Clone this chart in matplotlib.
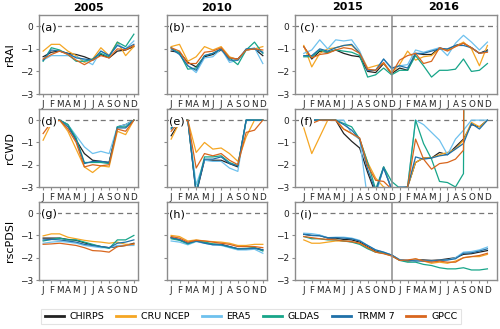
import numpy as np
import matplotlib
matplotlib.use('Agg')
import matplotlib.pyplot as plt
from matplotlib.lines import Line2D

months = ['J', 'F', 'M', 'A', 'M', 'J', 'J', 'A', 'S', 'O', 'N', 'D']
datasets = ['CHIRPS', 'CRU NCEP', 'ERA5', 'GLDAS', 'TRMM 7', 'GPCC']
colors = ['#222222', '#F5A623', '#6EC1EE', '#17A589', '#1F70A8', '#D8661E']
rows = ['rRAI', 'rCWD', 'rscPDSI']
years = ['2005', '2010', '2015', '2016']
nan = np.nan

# rRAI
rai_2005 = {
    'CHIRPS':   [-1.35, -1.15, -1.1, -1.2, -1.25, -1.35, -1.5, -1.25, -1.4, -1.1, -1.05, -0.9],
    'CRU NCEP': [-1.1, -0.8, -0.8, -1.1, -1.3, -1.6, -1.45, -0.95, -1.3, -0.7, -1.3, -0.9],
    'ERA5':     [-1.5, -1.3, -1.3, -1.3, -1.35, -1.5, -1.7, -1.1, -1.3, -0.8, -1.0, -0.65],
    'GLDAS':    [-1.55, -0.95, -1.05, -1.25, -1.55, -1.55, -1.45, -1.2, -1.35, -0.7, -0.9, -0.35],
    'TRMM 7':   [-1.5, -1.05, -1.1, -1.2, -1.4, -1.45, -1.5, -1.1, -1.3, -0.85, -1.0, -0.8],
    'GPCC':     [-1.45, -1.25, -1.1, -1.25, -1.5, -1.7, -1.5, -1.3, -1.4, -1.0, -1.05, -0.85],
}
rai_2010 = {
    'CHIRPS':   [-1.1, -1.15, -1.6, -1.8, -1.35, -1.25, -1.05, -1.4, -1.45, -1.05, -1.0, -1.3],
    'CRU NCEP': [-0.9, -0.8, -1.55, -1.35, -0.9, -1.05, -0.9, -1.35, -1.5, -1.05, -1.0, -0.9],
    'ERA5':     [-0.95, -1.2, -1.75, -2.05, -1.4, -1.35, -1.0, -1.6, -1.5, -1.05, -0.95, -1.65],
    'GLDAS':    [-0.95, -1.2, -1.9, -1.85, -1.3, -1.2, -1.0, -1.4, -1.7, -1.05, -0.7, -1.2],
    'TRMM 7':   [-1.0, -1.25, -1.75, -1.95, -1.3, -1.2, -1.0, -1.5, -1.5, -1.0, -1.0, -1.15],
    'GPCC':     [-0.95, -1.1, -1.65, -1.65, -1.15, -1.1, -0.95, -1.4, -1.45, -1.05, -1.0, -1.05],
}
rai_2015_16 = {
    'CHIRPS':   [-0.9, -1.45, -1.1, -1.15, -1.05, -1.2, -1.3, -1.35, -2.0, -2.05, -1.65, -2.1,
                 -1.85, -1.95, -1.2, -1.25, -1.25, -0.95, -1.05, -0.85, -0.75, -0.95, -1.2, -1.05],
    'CRU NCEP': [-0.85, -1.8, -1.2, -1.0, -0.95, -0.85, -0.85, -1.15, -1.85, -1.75, -1.65, -2.05,
                 -1.7, -1.1, -1.5, -1.35, -1.3, -1.0, -1.05, -0.9, -0.7, -1.0, -1.75, -0.85],
    'ERA5':     [-1.2, -1.05, -0.6, -1.0, -0.6, -0.65, -0.6, -1.1, -1.95, -1.95, -1.45, -1.9,
                 -1.75, -1.7, -1.05, -1.15, -1.05, -0.95, -1.3, -0.75, -0.4, -0.7, -1.05, -0.7],
    'GLDAS':    [-1.35, -1.35, -1.05, -1.15, -1.05, -1.1, -1.15, -1.3, -2.25, -2.15, -1.85, -2.15,
                 -1.95, -1.95, -1.3, -1.75, -2.25, -1.95, -1.95, -1.9, -1.45, -2.0, -1.95, -1.65],
    'TRMM 7':   [-1.3, -1.3, -1.0, -1.1, -0.95, -0.85, -0.8, -1.2, -1.95, -1.95, -1.45, -1.85,
                 -1.75, -1.85, -1.2, -1.2, -1.1, -1.0, -1.0, -0.85, -0.85, -0.95, -1.2, -1.1],
    'GPCC':     [-0.9, -1.4, -1.25, -1.2, -1.05, -0.95, -1.0, -1.2, -1.9, -1.95, -1.6, -2.1,
                 -1.5, -1.3, -1.2, -1.65, -1.55, -0.95, -1.1, -0.9, -0.75, -0.95, -1.2, -1.15],
}

# rCWD
cwd_2005 = {
    'CHIRPS':   [0, 0, 0, -0.2, -0.9, -1.5, -1.8, -1.85, -1.9, -0.3, -0.2, 0],
    'CRU NCEP': [-0.9, -0.15, 0, -0.5, -1.3, -2.1, -2.35, -2.05, -2.1, -0.5, -0.65, 0],
    'ERA5':     [0, 0, 0, -0.2, -0.7, -1.2, -1.5, -1.4, -1.5, -0.3, -0.2, 0],
    'GLDAS':    [0, 0, 0, -0.2, -0.8, -1.9, -1.9, -1.9, -1.95, -0.3, -0.3, 0],
    'TRMM 7':   [0, 0, 0, -0.3, -0.9, -1.95, -1.85, -1.85, -1.9, -0.35, -0.35, 0],
    'GPCC':     [-0.6, -0.1, 0, -0.4, -1.0, -2.1, -2.0, -2.05, -2.0, -0.4, -0.5, 0],
}
cwd_2010 = {
    'CHIRPS':   [-0.7, -0.1, 0, -3.3, -1.8, -1.8, -1.8, -1.95, -2.1, 0, 0, 0],
    'CRU NCEP': [-0.85, -0.1, 0, -1.45, -1.0, -1.3, -1.25, -1.5, -1.85, -0.75, 0, 0],
    'ERA5':     [-0.3, 0, 0, -2.9, -1.8, -1.85, -1.85, -2.15, -2.3, 0, 0, 0],
    'GLDAS':    [-0.35, 0, 0, -3.2, -1.65, -1.65, -1.6, -1.9, -2.05, 0, 0, 0],
    'TRMM 7':   [-0.4, 0, 0, -3.3, -1.75, -1.75, -1.65, -1.95, -2.05, 0, 0, 0],
    'GPCC':     [-0.5, -0.05, 0, -2.15, -1.5, -1.6, -1.5, -1.8, -2.0, -0.55, -0.45, 0],
}
cwd_2015_16 = {
    'CHIRPS':   [0, 0, 0, 0, 0, -0.6, -0.95, -1.25, -2.35, -3.3, -2.1, -3.1,
                 -3.1, -3.0, -1.9, -1.7, -1.7, -1.45, -1.55, -1.2, -0.85, -0.2, -0.3, 0],
    'CRU NCEP': [-0.35, -1.5, -0.75, 0, 0, -0.4, -0.6, -0.85, -1.9, -2.6, -3.0, -3.1,
                 -3.2, -3.0, -1.9, -1.7, -1.7, -1.55, -1.45, -1.3, -0.9, -0.1, -0.3, 0],
    'ERA5':     [0, 0, 0, 0, 0, 0, -0.6, -0.85, -3.6, -3.4, -2.1, -3.1,
                 -3.2, -3.0, 0, -0.2, -0.55, -0.9, -1.55, -0.85, -0.45, 0, 0, 0],
    'GLDAS':    [0, 0, 0, 0, 0, -0.15, -0.3, -0.85, -1.9, -3.1, -2.1, -2.75,
                 -3.05, -3.0, 0, -1.05, -1.75, -2.75, -2.8, -3.0, -2.4, 60, nan, nan],
    'TRMM 7':   [0, 0, 0, 0, 0, -0.2, -0.45, -0.85, -2.2, -3.2, -2.15, -3.1,
                 -3.0, -3.0, -1.65, -1.75, -1.7, -1.6, -1.55, -1.3, -1.05, -0.15, -0.4, 0],
    'GPCC':     [-0.1, -0.15, 0, 0, 0, -0.4, -0.6, -0.8, -2.05, -2.7, -2.75, -3.1,
                 -3.1, -3.0, -0.85, -1.75, -2.2, -1.95, -1.9, -1.75, -1.35, 60, nan, nan],
}

# rscPDSI
pdsi_2005 = {
    'CHIRPS':   [-1.12, -1.12, -1.12, -1.18, -1.22, -1.33, -1.43, -1.5, -1.55, -1.5, -1.45, -1.35],
    'CRU NCEP': [-1.02, -0.93, -0.93, -1.08, -1.15, -1.22, -1.27, -1.3, -1.35, -1.3, -1.4, -1.4],
    'ERA5':     [-1.35, -1.3, -1.27, -1.3, -1.35, -1.45, -1.5, -1.55, -1.55, -1.45, -1.45, -1.45],
    'GLDAS':    [-1.25, -1.18, -1.12, -1.2, -1.2, -1.3, -1.4, -1.5, -1.58, -1.2, -1.2, -1.0],
    'TRMM 7':   [-1.2, -1.18, -1.2, -1.25, -1.3, -1.4, -1.45, -1.5, -1.55, -1.35, -1.3, -1.2],
    'GPCC':     [-1.4, -1.38, -1.35, -1.4, -1.45, -1.55, -1.68, -1.7, -1.75, -1.5, -1.45, -1.38],
}
pdsi_2010 = {
    'CHIRPS':   [-1.1, -1.2, -1.35, -1.25, -1.32, -1.4, -1.4, -1.5, -1.6, -1.6, -1.55, -1.65],
    'CRU NCEP': [-1.0, -1.05, -1.25, -1.2, -1.25, -1.28, -1.3, -1.35, -1.45, -1.45, -1.4, -1.4],
    'ERA5':     [-1.25, -1.3, -1.42, -1.28, -1.35, -1.42, -1.45, -1.55, -1.65, -1.65, -1.62, -1.8],
    'GLDAS':    [-1.15, -1.22, -1.38, -1.25, -1.3, -1.38, -1.42, -1.52, -1.6, -1.58, -1.55, -1.7],
    'TRMM 7':   [-1.1, -1.18, -1.35, -1.25, -1.35, -1.42, -1.42, -1.5, -1.6, -1.6, -1.58, -1.65],
    'GPCC':     [-1.05, -1.12, -1.3, -1.22, -1.25, -1.3, -1.35, -1.4, -1.5, -1.5, -1.5, -1.55],
}
pdsi_2015_16 = {
    'CHIRPS':   [-0.95, -1.0, -1.0, -1.12, -1.12, -1.18, -1.2, -1.3, -1.5, -1.7, -1.78, -1.88,
                 -2.1, -2.15, -2.1, -2.1, -2.12, -2.1, -2.05, -2.0, -1.85, -1.82, -1.75, -1.68],
    'CRU NCEP': [-1.2, -1.35, -1.35, -1.3, -1.25, -1.25, -1.28, -1.35, -1.55, -1.75, -1.8, -1.92,
                 -2.1, -2.15, -2.05, -2.15, -2.25, -2.2, -2.25, -2.15, -2.0, -1.95, -1.95, -1.85],
    'ERA5':     [-0.9, -0.92, -0.98, -1.1, -1.08, -1.08, -1.12, -1.22, -1.45, -1.65, -1.75, -1.88,
                 -2.08, -2.12, -2.1, -2.15, -2.15, -2.12, -2.1, -2.0, -1.75, -1.72, -1.65, -1.52],
    'GLDAS':    [-1.05, -1.15, -1.15, -1.2, -1.2, -1.25, -1.3, -1.4, -1.6, -1.75, -1.8, -1.9,
                 -2.12, -2.2, -2.2, -2.3, -2.35, -2.45, -2.5, -2.5, -2.45, -2.55, -2.55, -2.5],
    'TRMM 7':   [-0.95, -1.0, -1.02, -1.1, -1.1, -1.12, -1.15, -1.25, -1.45, -1.65, -1.75, -1.88,
                 -2.1, -2.12, -2.15, -2.15, -2.15, -2.12, -2.1, -2.05, -1.8, -1.78, -1.7, -1.6],
    'GPCC':     [-1.05, -1.1, -1.15, -1.18, -1.2, -1.25, -1.28, -1.35, -1.55, -1.75, -1.82, -1.92,
                 -2.12, -2.1, -2.05, -2.15, -2.2, -2.15, -2.2, -2.2, -2.0, -1.95, -1.9, -1.8],
}

panels = [
    [rai_2005, rai_2010, rai_2015_16],
    [cwd_2005, cwd_2010, cwd_2015_16],
    [pdsi_2005, pdsi_2010, pdsi_2015_16],
]
letters = ['a', 'b', 'c', 'd', 'e', 'f', 'g', 'h', 'i']

W, H = 500, 329
col_px = [(39, 138), (167, 267), (295, 497)]
row_px = [(15, 94), (109, 187), (202, 280)]
frame_col = '#8c8c8c'

fig = plt.figure(figsize=(5.0, 3.29), dpi=100)

for r in range(3):
    for c in range(3):
        x0, x1 = col_px[c]
        y0, y1 = row_px[r]
        ax = fig.add_axes([x0 / W, 1 - y1 / H, (x1 - x0) / W, (y1 - y0) / H])
        data = panels[r][c]
        n = len(data['CHIRPS'])
        x = np.arange(n)
        for name, col in zip(datasets, colors):
            ax.plot(x, data[name], color=col, lw=0.9)
        ax.axhline(0, color='#777777', lw=0.9, ls=(0, (4, 3)), zorder=0)
        if n == 12:
            ax.set_xlim(-0.5, 11.5)
            ax.set_xticks(x)
            ax.set_xticklabels(months)
        else:
            ax.set_xlim(-1.1, 24.2)
            ax.set_xticks(x)
            ax.set_xticklabels(months * 2)
            ax.axvline(11, color='#8c8c8c', lw=1.1)
        ax.set_ylim(-3, 0.5)
        ax.set_yticks([-3, -2, -1, 0])
        if c == 0 or c == 2:
            ax.set_yticklabels(['\u22123', '\u22122', '\u22121', '0'])
        else:
            ax.set_yticklabels([])
        for s in ax.spines.values():
            s.set_color(frame_col)
            s.set_linewidth(1.0)
        ax.tick_params(axis='both', colors=frame_col, labelcolor='#222222',
                       labelsize=6.5, length=2.5, width=0.8, pad=1.5)
        ax.tick_params(axis='x', labelsize=6.3)
        ax.text(0.025, 0.84, '(' + letters[r * 3 + c] + ')', transform=ax.transAxes,
                fontsize=8, va='center', ha='left', zorder=5,
                bbox=dict(facecolor='white', edgecolor='none', pad=0.6))
        if c == 0:
            ax.set_ylabel(rows[r], fontsize=8, labelpad=4)
        if r == 0:
            if n == 12:
                ax.set_title(years[c], fontsize=8, fontweight='bold', pad=3)
            else:
                ax.text(5.5, 1.04, years[2], transform=ax.get_xaxis_transform(),
                        ha='center', va='bottom', fontsize=8, fontweight='bold')
                ax.text(17.5, 1.04, years[3], transform=ax.get_xaxis_transform(),
                        ha='center', va='bottom', fontsize=8, fontweight='bold')

handles = [Line2D([0], [0], color=col, lw=2.0) for col in colors]
leg = fig.legend(handles, datasets, loc='center', bbox_to_anchor=(251 / W, 1 - 316.5 / H),
                 ncol=6, fontsize=6.8, frameon=True, handlelength=2.0, columnspacing=1.3,
                 handletextpad=0.6, borderpad=0.35, fancybox=False)
leg.get_frame().set_edgecolor('#dddddd')
leg.get_frame().set_linewidth(0.8)

fig.savefig('out.png', dpi=100)
